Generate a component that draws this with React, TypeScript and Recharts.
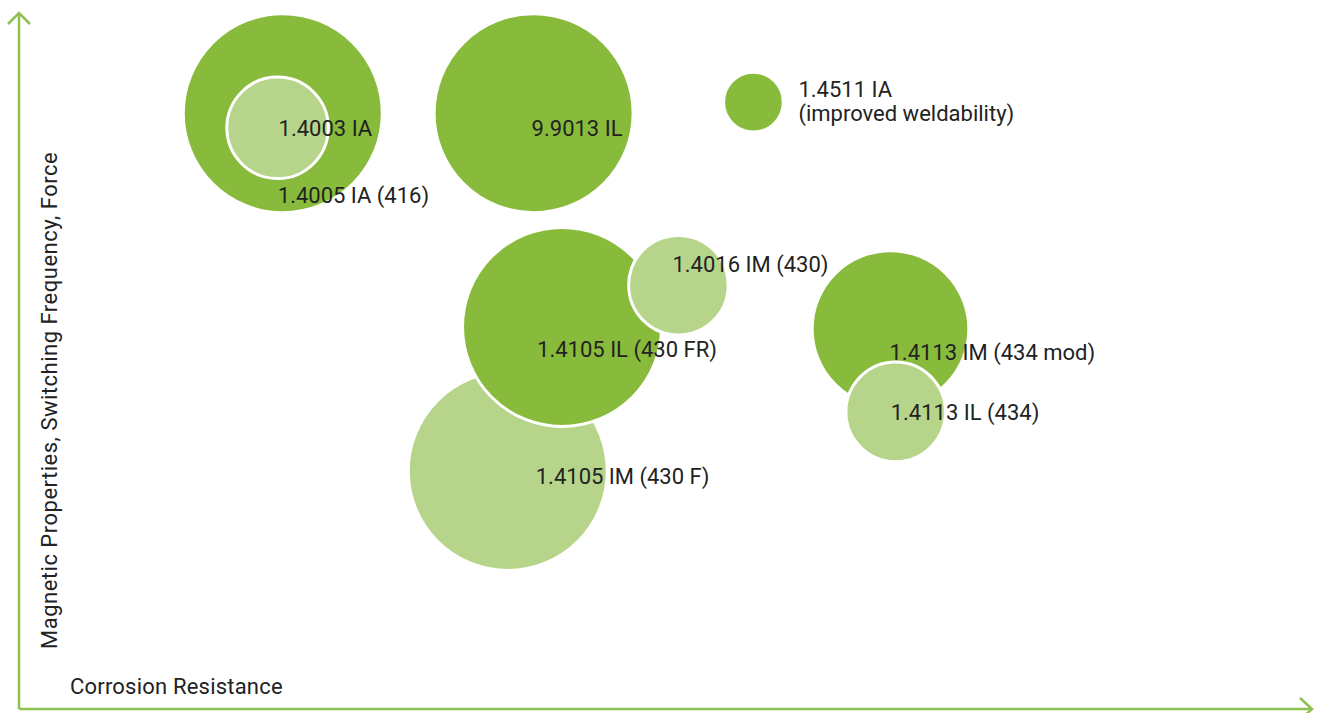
import React from 'react';
import { ScatterChart, Scatter, XAxis, YAxis, ZAxis, ReferenceDot, Label } from 'recharts';

// Draw order matters (later grades are painted on top).
const grades = [
  '1.4105 IM (430 F)',
  '1.4105 IL (430 FR)',
  '1.4016 IM (430)',
  '1.4005 IA (416)',
  '1.4003 IA',
  '9.9013 IL',
  '1.4511 IA\n(improved weldability)',
  '1.4113 IM (434 mod)',
  '1.4113 IL (434)',
];
const corrosionResistance = [37.8, 42.0, 51.0, 20.4, 20.0, 39.8, 56.8, 67.4, 67.8];
const magneticProperties = [34.2, 54.9, 60.9, 85.6, 83.5, 85.6, 87.2, 54.6, 42.7];
const bubbleSize = [100, 100, 25, 100, 26, 100, 9, 62, 25];
const variant = ['light', 'dark', 'light', 'dark', 'light', 'dark', 'dark', 'dark', 'light'];

const xLabel = 'Corrosion Resistance';
const yLabel = 'Magnetic Properties, Switching Frequency, Force';

// label placement (pixels relative to bubble centre): layout only
const labelOffsets: [number, number][] = [
  [28, 13],
  [-25, 30],
  [-6, -13],
  [-5, 90],
  [1, 8],
  [-2, 23],
  [45, -5],
  [-1, 31],
  [-5, 8],
];

const DARK = '#88bb3b';
const LIGHT = '#b6d58a';
const AXIS = '#8cc152';
const TEXT = '#222222';
const FONT = 'Roboto, "Noto Sans", sans-serif';

const data = grades.map((name, i) => ({
  name,
  x: corrosionResistance[i],
  y: magneticProperties[i],
  z: bubbleSize[i],
  variant: variant[i],
  idx: i,
}));

const MAX_R = 99.5;

const Bubble = (props: any) => {
  const { cx, cy, payload } = props;
  const r = props.width ? props.width / 2 : Math.sqrt((props.size || 0) / Math.PI);
  return (
    <circle
      cx={cx}
      cy={cy}
      r={r}
      fill={payload.variant === 'dark' ? DARK : LIGHT}
      stroke="#ffffff"
      strokeWidth={3}
    />
  );
};

const BubbleLabel = (props: any) => {
  const { cx, cy, payload } = props;
  const [dx, dy] = labelOffsets[payload.idx];
  const lines = String(payload.name).split('\n');
  return (
    <text x={cx + dx} y={cy + dy} fill={TEXT} fontSize={22} fontFamily={FONT} textAnchor="start">
      {lines.map((l, k) => (
        <tspan key={k} x={cx + dx} dy={k === 0 ? 0 : 24}>
          {l}
        </tspan>
      ))}
    </text>
  );
};

const ArrowUp = (props: any) => {
  const { cx, cy } = props;
  return (
    <polyline
      points={`${cx - 11},${cy + 11} ${cx},${cy} ${cx + 11},${cy + 11}`}
      fill="none"
      stroke={AXIS}
      strokeWidth={2.5}
    />
  );
};

const ArrowRight = (props: any) => {
  const { cx, cy } = props;
  return (
    <polyline
      points={`${cx - 12},${cy - 11} ${cx},${cy} ${cx - 12},${cy + 11}`}
      fill="none"
      stroke={AXIS}
      strokeWidth={2.5}
    />
  );
};

const XTitle = (props: any) => {
  const vb = props.viewBox || {};
  return (
    <text
      x={vb.x + 51}
      y={vb.y - 15}
      fill={TEXT}
      fontSize={22}
      letterSpacing={0.2}
      fontFamily={FONT}
      textAnchor="start"
    >
      {xLabel}
    </text>
  );
};

const YTitle = (props: any) => {
  const vb = props.viewBox || {};
  const x = vb.x + vb.width + 38;
  const y = vb.y + vb.height - 60;
  return (
    <text
      x={x}
      y={y}
      fill={TEXT}
      fontSize={22}
      letterSpacing={0.5}
      fontFamily={FONT}
      textAnchor="start"
      transform={`rotate(-90, ${x}, ${y})`}
    >
      {yLabel}
    </text>
  );
};

export default function App() {
  return (
    <div style={{ position: 'absolute', left: 0, top: 0, width: 1317, height: 713, background: '#fff' }}>
      <ScatterChart
        width={1317}
        height={713}
        margin={{ top: 13, right: 5, bottom: 3, left: 18 }}
        style={{ fontFamily: FONT }}
      >
        <XAxis
          type="number"
          dataKey="x"
          domain={[0, 100]}
          height={1}
          tick={false}
          tickLine={false}
          axisLine={{ stroke: AXIS, strokeWidth: 2.5 }}
        >
          <Label content={<XTitle />} />
        </XAxis>
        <YAxis
          type="number"
          dataKey="y"
          domain={[0, 100]}
          width={1}
          tick={false}
          tickLine={false}
          axisLine={{ stroke: AXIS, strokeWidth: 2.5 }}
        >
          <Label content={<YTitle />} />
        </YAxis>
        <ZAxis type="number" dataKey="z" domain={[0, 100]} range={[0, Math.PI * MAX_R * MAX_R]} />
        <Scatter data={data} shape={<Bubble />} isAnimationActive={false} />
        <Scatter data={data} shape={<BubbleLabel />} isAnimationActive={false} />
        <ReferenceDot x={0} y={100} r={0} shape={<ArrowUp />} ifOverflow="visible" />
        <ReferenceDot x={100} y={0} r={0} shape={<ArrowRight />} ifOverflow="visible" />
      </ScatterChart>
    </div>
  );
}
